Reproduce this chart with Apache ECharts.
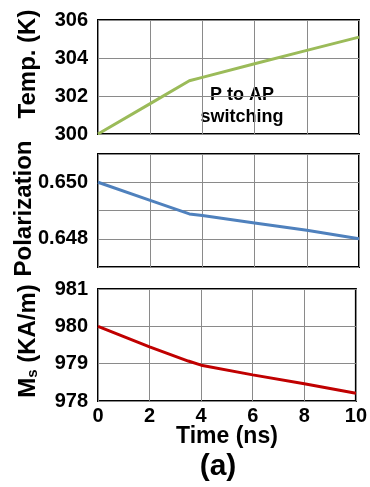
<!DOCTYPE html>
<html>
<head>
<meta charset="utf-8">
<script src="https://cdn.jsdelivr.net/npm/echarts@6/dist/echarts.min.js"></script>
<style>
html,body{margin:0;padding:0;background:#fff;}
#c{width:370px;height:487px;}
</style>
</head>
<body>
<div id="c"></div>
<script>
// Data
const timeNs = [0, 2, 3.5, 4, 6, 8, 10];
const temperature = [300, 301.6, 302.8, 302.98, 303.7, 304.4, 305.1];
const polarization = [0.65, 0.64936, 0.64888, 0.64882, 0.64856, 0.6483, 0.648];
const msValues = [980, 979.45, 979.07, 978.96, 978.70, 978.46, 978.21];
const xTicks = [0, 2, 4, 6, 8, 10];
const polLabels = [0.648, 0.650];

const FONT = '"Liberation Sans", Arial, sans-serif';
const pairs = (ys) => timeNs.map((t, i) => [t, ys[i]]);

const chart = echarts.init(document.getElementById('c'), null, {renderer: 'canvas'});

const gridBase = {left: 98, right: 11, show: true, borderColor: '#000', borderWidth: 2, containLabel: false};
const grids = [
  Object.assign({top: 20, height: 114}, gridBase),
  Object.assign({top: 154, height: 113}, gridBase),
  Object.assign({top: 289, height: 112}, gridBase)
];

function xAxis(idx, showLabels) {
  return {
    type: 'value', gridIndex: idx, min: 0, max: 10, interval: 2,
    axisLine: {show: false}, axisTick: {show: false},
    splitLine: {show: true, lineStyle: {color: '#8a8a8a', width: 1}},
    axisLabel: {show: showLabels, margin: 5, color: '#000', fontSize: 20, fontWeight: 'bold', fontFamily: FONT,
      formatter: v => xTicks.includes(v) ? String(v) : ''},
    name: showLabels ? 'Time (ns)' : '',
    nameLocation: 'middle', nameGap: 24, nameMoveOverlap: false,
    nameTextStyle: {color: '#000', fontSize: 23, fontWeight: 'bold', fontFamily: FONT}
  };
}

const nameStyle = {color: '#000', fontSize: 24, fontWeight: 'bold', fontFamily: FONT};
const labelStyle = {color: '#000', fontSize: 20, fontWeight: 'bold', fontFamily: FONT, margin: 10};
const split = {show: true, lineStyle: {color: '#8a8a8a', width: 1}};

const option = {
  animation: false,
  backgroundColor: '#fff',
  grid: grids,
  xAxis: [xAxis(0, false), xAxis(1, false), xAxis(2, true)],
  yAxis: [
    {type: 'value', gridIndex: 0, min: 300, max: 306, interval: 2,
     axisLine: {show: false}, axisTick: {show: false}, splitLine: split,
     axisLabel: labelStyle,
     name: 'Temp. (K)', nameLocation: 'middle', nameGap: 58, nameMoveOverlap: false,
     nameTextStyle: Object.assign({padding: [0, 0, 0, 26]}, nameStyle)},
    {type: 'value', gridIndex: 1, min: 0.647, max: 0.651, interval: 0.001,
     axisLine: {show: false}, axisTick: {show: false}, splitLine: split,
     axisLabel: Object.assign({}, labelStyle, {
       formatter: v => polLabels.some(p => Math.abs(p - v) < 1e-7) ? v.toFixed(3) : ''}),
     name: 'Polarization', nameLocation: 'middle', nameGap: 62, nameMoveOverlap: false,
     nameTextStyle: Object.assign({padding: [0, 0, 0, 4]}, nameStyle)},
    {type: 'value', gridIndex: 2, min: 978, max: 981, interval: 1,
     axisLine: {show: false}, axisTick: {show: false}, splitLine: split,
     axisLabel: labelStyle,
     name: '{m|M}{s|s}{m| (KA/m)}', nameLocation: 'middle', nameGap: 58, nameMoveOverlap: false,
     nameTextStyle: Object.assign({padding: [0, 0, 0, 8], rich: {
       m: {fontSize: 24, fontWeight: 'bold', fontFamily: FONT, color: '#000'},
       s: {fontSize: 15, fontWeight: 'bold', fontFamily: FONT, color: '#000', verticalAlign: 'bottom', padding: [8, 0, 0, 0]}
     }}, nameStyle)}
  ],
  series: [
    {type: 'line', xAxisIndex: 0, yAxisIndex: 0, data: pairs(temperature), showSymbol: false,
     lineStyle: {color: '#9bbb59', width: 3}, itemStyle: {color: '#9bbb59'}},
    {type: 'line', xAxisIndex: 1, yAxisIndex: 1, data: pairs(polarization), showSymbol: false,
     lineStyle: {color: '#4f81bd', width: 3}, itemStyle: {color: '#4f81bd'}},
    {type: 'line', xAxisIndex: 2, yAxisIndex: 2, data: pairs(msValues), showSymbol: false,
     lineStyle: {color: '#c00000', width: 3}, itemStyle: {color: '#c00000'}}
  ],
  graphic: [
    {type: 'text', x: 242, y: 106,
     style: {text: 'P to AP\nswitching', font: 'bold 18px ' + FONT, fill: '#000', textAlign: 'center', textVerticalAlign: 'middle', lineHeight: 22}},
    {type: 'text', x: 218, y: 467,
     style: {text: '(a)', font: 'bold 30px ' + FONT, fill: '#000', textAlign: 'center', textVerticalAlign: 'middle'}}
  ]
};
chart.setOption(option);
</script>
</body>
</html>
